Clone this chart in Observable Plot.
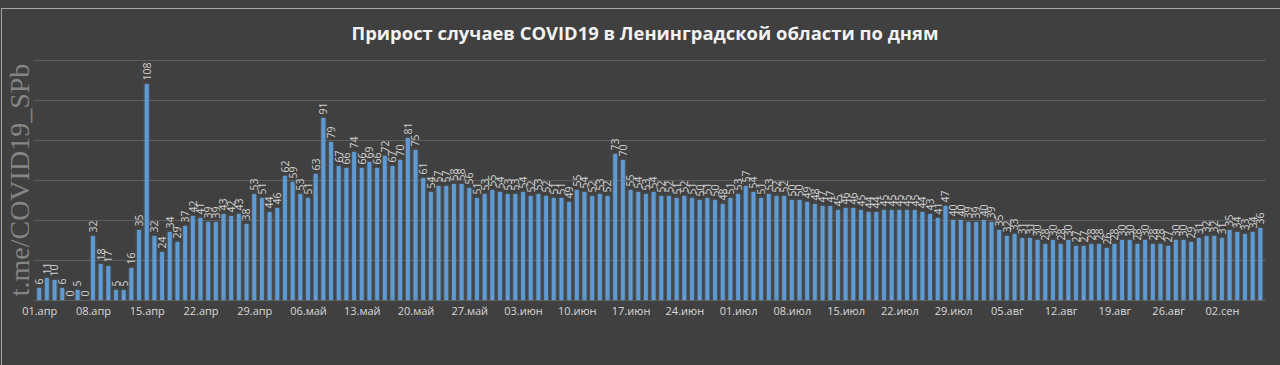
<!DOCTYPE html>
<html><head><meta charset="utf-8">
<script src="https://cdn.jsdelivr.net/npm/d3@7"></script>
<script src="https://cdn.jsdelivr.net/npm/@observablehq/plot@0.6"></script>
<style>
html,body{margin:0;padding:0;background:#404040;}
#wrap{position:relative;width:1280px;height:365px;overflow:hidden;background:#404040;}
#border{position:absolute;left:1px;top:8px;width:1290px;height:400px;border-left:1px solid #a6a6a6;border-top:1px solid #a6a6a6;}
#title{position:absolute;top:20px;left:0;width:1290px;text-align:center;font:bold 18.4px "Open Sans",sans-serif;color:#f2f2f2;}
#wm{position:absolute;left:20px;top:180px;transform:translate(-50%,-50%) rotate(-90deg);white-space:nowrap;font:28px "Liberation Serif",serif;color:#858585;}
#chart{position:absolute;top:0;left:0;}
</style></head>
<body><div id="wrap"><div id="border"></div><div id="chart"></div><div id="title">Прирост случаев COVID19 в Ленинградской области по дням</div><div id="wm">t.me/COVID19_SPb</div></div>
<script>
const monthNames = ["апр","май","июн","июл","авг","сен"];
const apr = [6,11,10,6,0,5,0,32,18,17,5,5,16,35,108,32,24,34,29,37,42,41,39,39,43,42,43,38,53,51];
const may = [44,46,62,59,53,51,63,91,79,67,66,74,66,69,66,72,67,70,81,75,61,54,57,57,58,58,56,51,53,55,54];
const jun = [53,53,54,52,53,52,51,51,49,55,54,52,53,52,73,70,55,54,53,54,52,52,51,52,51,50,51,50,48,51];
const jul = [53,57,54,51,53,52,52,50,50,49,48,47,47,45,46,46,45,44,44,45,45,45,45,45,44,43,41,47,40,40,39];
const aug = [39,40,39,35,32,33,31,31,30,28,30,28,30,27,27,28,28,26,28,30,30,28,30,28,28,27,30,30,29,31,32];
const sep = [32,31,35,34,33,34,36];
const tickLabels = ["01.апр","08.апр","15.апр","22.апр","29.апр","06.май","13.май","20.май","27.май","03.июн","10.июн","17.июн","24.июн","01.июл","08.июл","15.июл","22.июл","29.июл","05.авг","12.авг","19.авг","26.авг","02.сен"];
const gridValues = [0,20,40,60,80,100,120];

const monthValues = [apr, may, jun, jul, aug, sep];
const data = [];
monthValues.forEach((vals, m) => vals.forEach((v, i) => data.push({day: String(i+1).padStart(2,"0") + "." + monthNames[m], value: v})));

const chart = Plot.plot({
  width: 1280, height: 365,
  marginTop: 60, marginBottom: 65, marginLeft: 33.44, marginRight: 13.92,
  style: {background: "transparent", color: "#d9d9d9", fontFamily: "'Open Sans', sans-serif", overflow: "visible"},
  x: {domain: data.map(d => d.day), padding: 0.5, axis: null},
  y: {domain: [0, 120], axis: null},
  marks: [
    Plot.gridY(gridValues, {stroke: "#5e5e5e", strokeOpacity: 1, strokeWidth: 1}),
    Plot.barY(data, {x: "day", y: "value", fill: "#5b9bd5"}),
    Plot.text(data, {x: "day", y: "value", text: d => String(d.value), rotate: -90, textAnchor: "start", dy: -4, fill: "#d0d0d0", fontSize: 10.5}),
    Plot.axisX({ticks: tickLabels, tickSize: 0, tickPadding: 7, fontSize: 11, fill: "#d9d9d9", label: null})
  ]
});
document.getElementById("chart").appendChild(chart);
const ns = "http://www.w3.org/2000/svg";
const defs = document.createElementNS(ns, "defs");
defs.innerHTML = '<filter id="glow" x="-20%" y="-20%" width="140%" height="140%"><feGaussianBlur in="SourceAlpha" stdDeviation="1" result="b"/><feFlood flood-color="#9dc3e6" flood-opacity="0.45"/><feComposite in2="b" operator="in" result="g"/><feMerge><feMergeNode in="g"/><feMergeNode in="SourceGraphic"/></feMerge></filter>';
chart.prepend(defs);
const barG = chart.querySelector('g[aria-label="bar"]');
if (barG) barG.setAttribute("filter", "url(#glow)");
</script>
</body></html>
